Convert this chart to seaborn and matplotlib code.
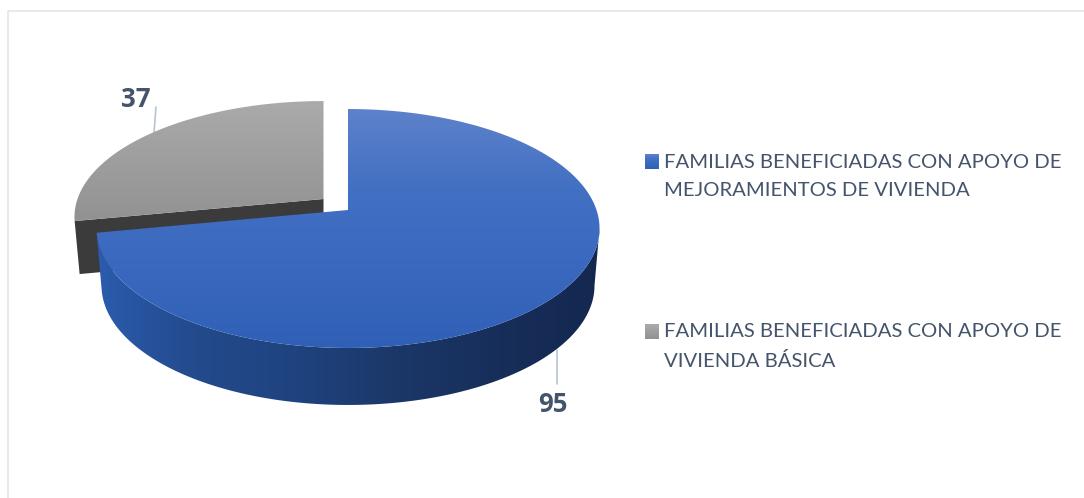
"""
Exploded 3D-look pie of the housing support families
"""
import matplotlib
matplotlib.use("Agg")
import matplotlib.pyplot as plt
import matplotlib.legend_handler as mhandler
from matplotlib.patches import Patch, Polygon, Rectangle
import numpy as np
import seaborn as sns

##### DATA
categories = [
    "FAMILIAS BENEFICIADAS CON APOYO DE\nMEJORAMIENTOS DE VIVIENDA",
    "FAMILIAS BENEFICIADAS CON APOYO DE\nVIVIENDA BÁSICA",
]
values = [95, 37]

##### STYLE
TEXT_COLOR = "#44546a"
LEADER_COLOR = "#b9c4d3"
FRAME_COLOR = "#e3e7ec"
BLUE_TOP = ["#5f82cb", "#4270c3", "#3a68bf", "#2f60b6"]
BLUE_WALL = ["#2b5cae", "#234a8c", "#1f437f", "#1b3768", "#172e5a", "#14284f"]
GRAY_TOP = ["#ababab", "#919191"]
GRAY_WALL = "#3b3b3b"

# screen position of the disc
CX, APEX_Y = 348.0, 210.0
RADIUS, K, TILT = 248.5, 0.1548, 84.1
DEPTH = 57
# gray slice is pulled out to here
GRAY_X, GRAY_Y = 323.5, 199.0
GRAY_DEPTH = 53


def project(theta):
    """Perspective view of a point on the unit circle, in pixels"""
    u = np.cos(theta)
    v = np.sin(theta)
    w = 1 + K * v
    return CX + RADIUS * u / w, (APEX_Y - TILT * v) / w


def gradient(ax, clip, cmap, extent, horizontal=False, zorder=2):
    ramp = np.linspace(0, 1, 256)
    grad = ramp.reshape(1, -1) if horizontal else ramp.reshape(-1, 1)
    img = ax.imshow(grad, cmap=cmap, extent=extent, aspect="auto", origin="upper", zorder=zorder, interpolation="bilinear")
    img.set_clip_path(clip)


def swatch(legend, orig_handle, xdescent, ydescent, width, height, fontsize):
    # put the marker beside the first text line
    return Rectangle((-xdescent, -ydescent + 10.3), width, height)


sns.set_theme(style="white")
plt.rcParams["font.family"] = ["Lato", "DejaVu Sans"]

fig = plt.figure(figsize=(10.84, 4.98), dpi=100)
ax = fig.add_axes([0, 0, 1, 1])

# the pie only gives the slice angles, the drawing is done in perspective
wedges, _ = ax.pie(values, startangle=90, counterclock=False)
angles = [(np.radians(w.theta1), np.radians(w.theta2)) for w in wedges]
for w in wedges:
    w.remove()

# ---- gray slice
t = np.linspace(angles[1][0], angles[1][1], 120)
gx, gy = project(t)
gx = GRAY_X + (gx - CX) * 0.99
gy = GRAY_Y + (gy - APEX_Y) * 0.97
corner_x, corner_y = gx[-1], gy[-1]

# only the cut face shows, the first slice hides the rest
face = [(GRAY_X, GRAY_Y), (corner_x, corner_y),
        (GRAY_X + (corner_x - GRAY_X) * 0.98, corner_y + GRAY_DEPTH), (GRAY_X, GRAY_Y + GRAY_DEPTH)]
ax.add_patch(Polygon(face, closed=True, fc=GRAY_WALL, ec="none", zorder=2))

gray_patch = Polygon(np.vstack([[(GRAY_X, GRAY_Y)], np.c_[gx, gy]]), closed=True, fc="none", ec="none", zorder=3)
ax.add_patch(gray_patch)
gradient(ax, gray_patch, sns.blend_palette(GRAY_TOP, as_cmap=True), (70, 330, 225, 98), zorder=3)

# ---- blue slice: outer wall first, then the top face
t = np.linspace(-np.arcsin(K), angles[0][0], 200)
wx, wy = project(t)
bx = CX + (wx - CX) * 0.98
by = wy + DEPTH
wall_patch = Polygon(np.vstack([np.c_[wx, wy], np.c_[bx, by][::-1]]), closed=True, fc="none", ec="none", zorder=4)
ax.add_patch(wall_patch)
gradient(ax, wall_patch, sns.blend_palette(BLUE_WALL, as_cmap=True), (95, 602, 410, 225), horizontal=True, zorder=4)

t = np.linspace(angles[0][0], angles[0][1], 300)
tx, ty = project(t)
top_patch = Polygon(np.vstack([[(CX, APEX_Y)], np.c_[tx, ty]]), closed=True, fc="none", ec="none", zorder=5)
ax.add_patch(top_patch)
gradient(ax, top_patch, sns.blend_palette(BLUE_TOP, as_cmap=True), (95, 602, 350, 107), zorder=5)

# ---- leader lines and value labels
ax.plot([154, 156], [133, 107], color=LEADER_COLOR, lw=1.2, zorder=1)
ax.plot([557, 557], [350, 384], color=LEADER_COLOR, lw=1.2, zorder=3)
ax.text(136, 99, str(values[1]), color=TEXT_COLOR, fontsize=18.5, family="Open Sans", fontweight="bold", ha="center", va="center")
ax.text(553, 404, str(values[0]), color=TEXT_COLOR, fontsize=18.5, family="Open Sans", fontweight="bold", ha="center", va="center")

# ---- frame of the chart
ax.plot([8, 8, 1084], [498, 11, 11], color=FRAME_COLOR, lw=1.2, zorder=0)

# ---- legend
handles = [Patch(fc=BLUE_TOP[1]), Patch(fc=GRAY_TOP[0])]
leg = ax.legend(
    handles, categories,
    loc="upper left", bbox_to_anchor=(645, 154), bbox_transform=ax.transData,
    frameon=False, fontsize=14.55, labelcolor=TEXT_COLOR,
    handlelength=0.69, handleheight=0.69, handletextpad=0.25, labelspacing=6.1,
    borderaxespad=0, borderpad=0,
    handler_map={Patch: mhandler.HandlerPatch(patch_func=swatch)},
)
for txt in leg.get_texts():
    txt.set_linespacing(1.82)

ax.set_xlim(0, 1084)
ax.set_ylim(498, 0)
ax.set_aspect("auto")
ax.axis("off")

# gradient on the legend markers
fig.canvas.draw()
inv = ax.transData.inverted()
for handle, cols in zip(leg.legend_handles, [BLUE_TOP, GRAY_TOP]):
    bb = handle.get_window_extent().transformed(inv)
    handle.set_alpha(0)
    ax.imshow(np.linspace(0, 1, 64).reshape(-1, 1), cmap=sns.blend_palette(cols, as_cmap=True),
              extent=(bb.x0, bb.x1, max(bb.y0, bb.y1), min(bb.y0, bb.y1)), aspect="auto", origin="upper", zorder=6)
ax.set_xlim(0, 1084)
ax.set_ylim(498, 0)

plt.savefig("out.png", dpi=100)
plt.close()
